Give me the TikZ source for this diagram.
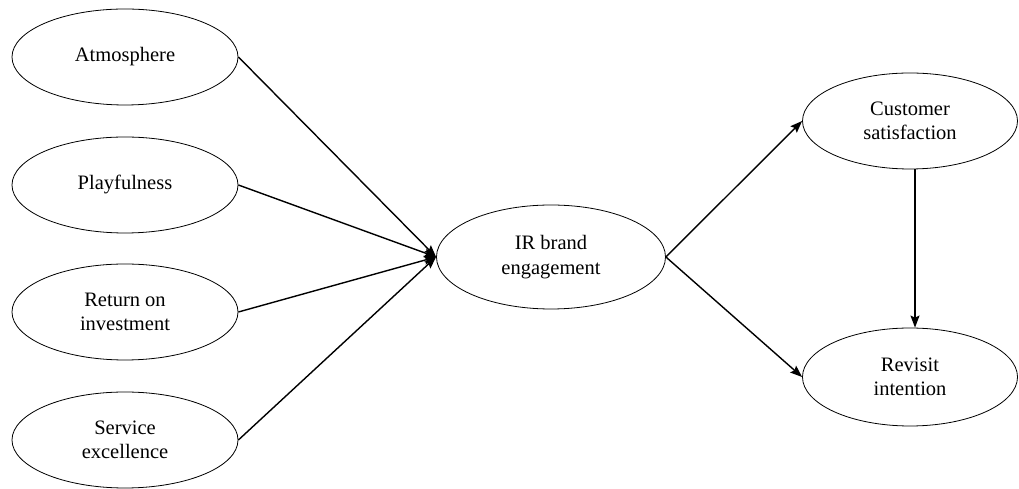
\documentclass[tikz,border=0pt]{standalone}
\usepackage{fontspec}
\setmainfont{Liberation Serif}
\usetikzlibrary{shapes.geometric,arrows.meta}
\begin{document}
\begin{tikzpicture}[x=1pt,y=1pt,
  oval/.style={draw,ellipse,line width=0.8pt,minimum width=226pt,minimum height=96pt,inner sep=0pt,align=center,font=\fontsize{20.5}{24.5}\selectfont},
  conn/.style={line width=1.4pt,-{Stealth[length=12pt,width=9pt,inset=2pt]}}]
\useasboundingbox (0,0) rectangle (1019,489);
\node[oval] (atm) at (125,432) {Atmosphere};
\node[oval] (play) at (125,304) {Playfulness};
\node[oval] (roi) at (125,177) {Return on\\investment};
\node[oval] (serv) at (125,49) {Service\\excellence};
\node[oval,minimum width=229pt,minimum height=104pt] (ir) at (551,232) {IR brand\\engagement};
\node[oval,minimum width=215pt] (cs) at (910,368) {Customer\\satisfaction};
\node[oval,minimum width=215pt,minimum height=98pt] (ri) at (910,112) {Revisit\\intention};
\draw[conn] (atm.east) -- (ir.west);
\draw[conn] (play.east) -- (ir.west);
\draw[conn] (roi.east) -- (ir.west);
\draw[conn] (serv.east) -- (ir.west);
\draw[conn] (ir.east) -- (cs.west);
\draw[conn] (ir.east) -- (ri.west);
\draw[conn] (cs.south -| 915,0) -- (ri.north -| 915,0);
\end{tikzpicture}
\end{document}
